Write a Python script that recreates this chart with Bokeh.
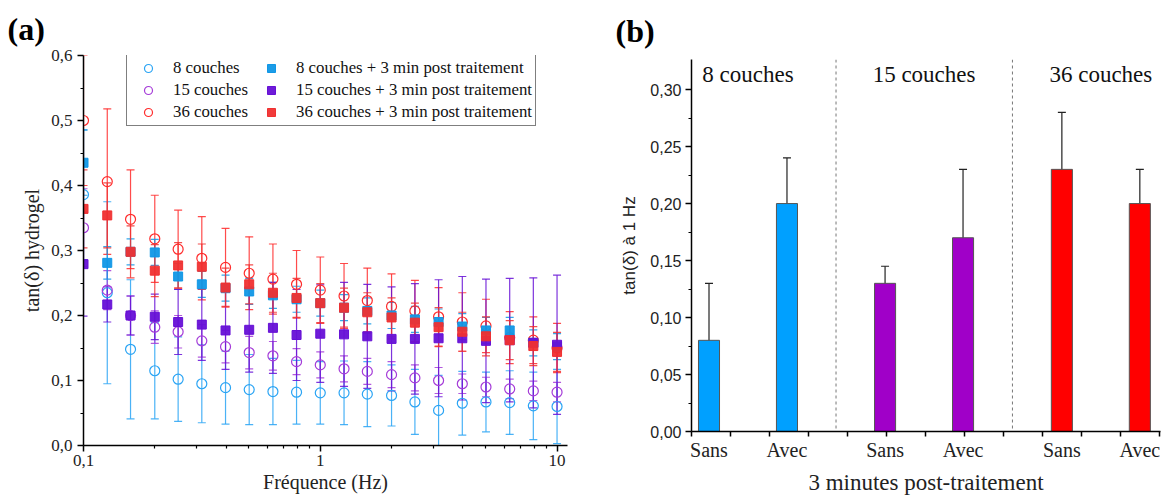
from bokeh.plotting import figure
from bokeh.models import (ColumnDataSource, Whisker, TeeHead, Legend, LegendItem, FixedTicker,
                          CustomJSTickFormatter, Span, Range1d)
from bokeh.layouts import row
from bokeh.embed import file_html
from bokeh.resources import INLINE
from bokeh.core.properties import value

# ---------------- data (a) ----------------
freq = [0.1, 0.126, 0.158, 0.2, 0.251, 0.316, 0.398, 0.501, 0.631, 0.794, 1.0,
        1.26, 1.58, 2.0, 2.51, 3.16, 3.98, 5.01, 6.31, 7.94, 10.0]

c8 = [0.386, 0.235, 0.148, 0.115, 0.102, 0.095, 0.089, 0.086, 0.083, 0.082, 0.081,
      0.081, 0.079, 0.077, 0.067, 0.054, 0.065, 0.067, 0.066, 0.061, 0.060]
c8_err = [0.10, 0.14, 0.107, 0.074, 0.065, 0.060, 0.056, 0.054, 0.051, 0.049, 0.048,
          0.049, 0.050, 0.047, 0.050, 0.054, 0.049, 0.046, 0.049, 0.052, 0.057]
c15 = [0.335, 0.239, 0.200, 0.182, 0.175, 0.161, 0.152, 0.143, 0.138, 0.129, 0.124,
       0.118, 0.114, 0.109, 0.104, 0.100, 0.095, 0.090, 0.087, 0.084, 0.082]
c15_err = [0.06, 0.030, 0.030, 0.025, 0.025, 0.025, 0.025, 0.025, 0.022, 0.020, 0.020,
           0.020, 0.020, 0.020, 0.020, 0.020, 0.015, 0.015, 0.015, 0.015, 0.015]
c36 = [0.500, 0.406, 0.348, 0.318, 0.302, 0.288, 0.274, 0.265, 0.256, 0.248, 0.239,
       0.230, 0.223, 0.214, 0.207, 0.198, 0.190, 0.184, 0.166, 0.162, 0.150]
c36_err = [0.10, 0.112, 0.076, 0.067, 0.060, 0.064, 0.060, 0.056, 0.054, 0.052, 0.051,
           0.050, 0.050, 0.050, 0.047, 0.045, 0.045, 0.041, 0.040, 0.036, 0.038]

s8 = [0.435, 0.281, 0.298, 0.297, 0.260, 0.248, 0.242, 0.237, 0.231, 0.225, 0.219,
      0.212, 0.207, 0.200, 0.194, 0.190, 0.183, 0.177, 0.177, 0.158, 0.152]
s8_err = [0.05, 0.025, 0.020, 0.020, 0.020, 0.020, 0.020, 0.020, 0.020, 0.020, 0.020,
          0.020, 0.020, 0.020, 0.020, 0.020, 0.020, 0.020, 0.020, 0.020, 0.020]
s15 = [0.279, 0.217, 0.200, 0.198, 0.190, 0.186, 0.177, 0.178, 0.181, 0.170, 0.172,
       0.171, 0.168, 0.164, 0.164, 0.165, 0.165, 0.161, 0.162, 0.158, 0.155]
s15_err = [0.08, 0.027, 0.030, 0.035, 0.050, 0.055, 0.060, 0.065, 0.070, 0.070, 0.075,
           0.080, 0.080, 0.080, 0.085, 0.090, 0.095, 0.095, 0.095, 0.100, 0.107]
s36 = [0.364, 0.354, 0.298, 0.269, 0.277, 0.275, 0.243, 0.248, 0.235, 0.227, 0.219,
       0.212, 0.205, 0.197, 0.189, 0.182, 0.175, 0.168, 0.162, 0.153, 0.144]
s36_err = [0.06, 0.050, 0.040, 0.040, 0.035, 0.035, 0.030, 0.030, 0.030, 0.030, 0.030,
           0.030, 0.030, 0.030, 0.030, 0.030, 0.030, 0.030, 0.030, 0.030, 0.030]

open_labels = ["8 couches", "15 couches", "36 couches"]
filled_labels = ["8 couches + 3 min post traitement", "15 couches + 3 min post traitement",
                 "36 couches + 3 min post traitement"]

y_ticks_a = [0.0, 0.1, 0.2, 0.3, 0.4, 0.5, 0.6]
x_ticks_a = [0.1, 1, 10]

# ---------------- data (b) ----------------
groups = ["8 couches", "15 couches", "36 couches"]
conditions = ["Sans", "Avec"]
bar_values = [0.08, 0.20, 0.13, 0.17, 0.23, 0.20]
bar_errors = [0.05, 0.04, 0.015, 0.06, 0.05, 0.03]
y_ticks_b = [0.0, 0.05, 0.10, 0.15, 0.20, 0.25, 0.30]

# ---------------- styles ----------------
SERIF = "Liberation Serif"
SANS = "Liberation Sans"
circle_colors = ["#2AA4F4", "#A53CD8", "#FF2B2B"]
square_colors = ["#1097E6", "#6610D6", "#F03030"]
bar_colors = ["#00A0FF", "#A000C8", "#FF0000"]


def style_axis(ax, font, tick_size, label_size):
    ax.axis_line_color = "black"
    ax.axis_line_width = 1.5
    ax.major_tick_line_color = "black"
    ax.major_tick_line_width = 1.5
    ax.major_tick_in = 0
    ax.major_tick_out = 6
    ax.minor_tick_line_color = "black"
    ax.minor_tick_line_width = 1.2
    ax.minor_tick_in = 0
    ax.minor_tick_out = 3
    ax.major_label_text_font = font
    ax.major_label_text_font_size = tick_size
    ax.major_label_text_color = "#222222"
    ax.axis_label_text_font_style = "normal"
    ax.axis_label_text_color = "#222222"
    ax.axis_label_text_font_size = label_size


def style_title(fig, text, offset, standoff):
    fig.title.text = text
    fig.title.text_font = SERIF
    fig.title.text_font_style = "bold"
    fig.title.text_font_size = "32px"
    fig.title.text_color = "black"
    fig.title.align = "left"
    fig.title.offset = offset
    fig.title.standoff = standoff


# ================= figure (a) =================
p1 = figure(width=612, height=497, x_axis_type="log",
            x_range=Range1d(0.1, 11.07), y_range=Range1d(0, 0.6),
            output_backend="svg", toolbar_location=None,
            min_border_left=83, min_border_right=45, min_border_top=53, min_border_bottom=52)
p1.frame_align = False
p1.outline_line_color = None
p1.grid.visible = False
style_title(p1, "(a)", -76, 17)

style_axis(p1.xaxis[0], SERIF, "17px", "20px")
style_axis(p1.yaxis[0], SERIF, "17px", "20px")
p1.axis.axis_label_text_font = SERIF
p1.xaxis.axis_label = "Fréquence (Hz)"
p1.yaxis.axis_label = "tan(δ) hydrogel"
p1.xaxis.ticker = FixedTicker(ticks=x_ticks_a,
                              minor_ticks=[0.2, 0.3, 0.4, 0.5, 0.6, 0.7, 0.8, 0.9,
                                           2, 3, 4, 5, 6, 7, 8, 9])
p1.xaxis.formatter = CustomJSTickFormatter(
    code="return (tick < 1 ? tick.toFixed(1) : tick.toFixed(0)).replace('.', ',');")
p1.yaxis.ticker = FixedTicker(ticks=y_ticks_a,
                              minor_ticks=[0.05, 0.15, 0.25, 0.35, 0.45, 0.55])
p1.yaxis.formatter = CustomJSTickFormatter(code="return tick.toFixed(1).replace('.', ',');")
p1.xaxis.major_label_standoff = 3
p1.xaxis.axis_label_standoff = 2
p1.yaxis.major_label_standoff = 5
p1.yaxis.axis_label_standoff = 5


def add_whisker(fig, xs, ys, errs, color, size=8, alpha=0.85):
    src = ColumnDataSource(dict(x=xs, lo=[y - e for y, e in zip(ys, errs)],
                                hi=[y + e for y, e in zip(ys, errs)]))
    w = Whisker(base="x", lower="lo", upper="hi", source=src,
                line_color=color, line_width=1.2, line_alpha=alpha,
                lower_head=TeeHead(size=size, line_color=color, line_width=1.2, line_alpha=alpha),
                upper_head=TeeHead(size=size, line_color=color, line_width=1.2, line_alpha=alpha))
    fig.add_layout(w)


open_series = [c8, c15, c36]
open_errs = [c8_err, c15_err, c36_err]
filled_series = [s8, s15, s36]
filled_errs = [s8_err, s15_err, s36_err]

open_renderers = []
filled_renderers = []
for ys, es, col in zip(open_series, open_errs, circle_colors):
    add_whisker(p1, freq, ys, es, col)
for ys, es, col in zip(filled_series, filled_errs, square_colors):
    add_whisker(p1, freq, ys, es, col)
for ys, col in zip(open_series, circle_colors):
    r = p1.scatter(freq, ys, marker="circle", size=10, fill_color=None,
                   line_color=col, line_width=1.2)
    open_renderers.append(r)
for ys, col in zip(filled_series, square_colors):
    r = p1.scatter(freq, ys, marker="square", size=9, fill_color=col,
                   line_color=col, line_width=1, fill_alpha=0.95)
    filled_renderers.append(r)

items = [LegendItem(label=l, renderers=[r]) for l, r in zip(open_labels, open_renderers)]
items += [LegendItem(label=l, renderers=[r]) for l, r in zip(filled_labels, filled_renderers)]
legend = Legend(items=items, location=(43, 319), orientation="vertical", ncols=2,
                label_text_font=SERIF, label_text_font_size="16.8px", label_text_color="#111111",
                border_line_color="black", border_line_width=1,
                padding=3, spacing=2, margin=0, glyph_width=36, glyph_height=20,
                label_height=14, label_width=78, label_standoff=7,
                background_fill_color="white", background_fill_alpha=1)
p1.add_layout(legend)

# ================= figure (b) =================
p2 = figure(width=550, height=497, x_range=Range1d(0, 12.03), y_range=Range1d(0, 0.3264),
            output_backend="svg", toolbar_location=None,
            min_border_left=79, min_border_right=2, min_border_top=57, min_border_bottom=62)
p2.frame_align = False
p2.outline_line_color = None
p2.grid.visible = False
style_title(p2, "(b)", -76, 21)

GROUP_CENTERS = [1.449, 5.965, 10.5]
OFFSETS = [-1.0, 1.0]
BAR_WIDTH = 0.54

bx, bcol, blab = [], [], []
for gi, gc in enumerate(GROUP_CENTERS):
    for ci, off in enumerate(OFFSETS):
        bx.append(gc + off)
        bcol.append(bar_colors[gi])
        blab.append(conditions[ci])

style_axis(p2.xaxis[0], SERIF, "20px", "23px")
style_axis(p2.yaxis[0], SANS, "16px", "17px")
p2.xaxis.axis_label_text_font = SERIF
p2.yaxis.axis_label_text_font = SANS
p2.xaxis.axis_label = "3 minutes post-traitement"
p2.yaxis.axis_label = "tan(δ) à 1 Hz"
# labels under the bars, tick marks at regular intervals
p2.xaxis.ticker = FixedTicker(ticks=bx, minor_ticks=list(range(0, 13)))
p2.xaxis.major_tick_out = 0
p2.xaxis.minor_tick_out = 5
p2.xaxis.minor_tick_line_width = 1.5
p2.xaxis.formatter = CustomJSTickFormatter(args=dict(labels=blab), code="return labels[index];")
p2.xaxis.major_label_standoff = 2
p2.xaxis.axis_label_standoff = 6
p2.yaxis.ticker = FixedTicker(ticks=y_ticks_b,
                              minor_ticks=[0.025, 0.075, 0.125, 0.175, 0.225, 0.275])
p2.yaxis.formatter = CustomJSTickFormatter(code="return tick.toFixed(2).replace('.', ',');")
p2.yaxis.major_label_standoff = 4
p2.yaxis.axis_label_standoff = 8

bsrc = ColumnDataSource(dict(x=bx, top=bar_values, color=bcol,
                             lo=[v - e for v, e in zip(bar_values, bar_errors)],
                             hi=[v + e for v, e in zip(bar_values, bar_errors)]))
p2.vbar(x="x", top="top", width=BAR_WIDTH, bottom=0, fill_color="color",
        line_color="#555555", line_width=1, source=bsrc)
p2.add_layout(Whisker(base="x", lower="lo", upper="hi", source=bsrc,
                      line_color="#222222", line_width=1.2,
                      lower_head=TeeHead(size=8, line_color="#222222", line_width=1.2),
                      upper_head=TeeHead(size=8, line_color="#222222", line_width=1.2)))

for a, b in zip(GROUP_CENTERS[:-1], GROUP_CENTERS[1:]):
    p2.add_layout(Span(location=(a + b) / 2, dimension="height", line_color="#777777",
                       line_dash="3 3", line_width=1))

gsrc = ColumnDataSource(dict(x=GROUP_CENTERS, y=[0.313] * 3, text=groups))
p2.text(x="x", y="y", text="text", source=gsrc, text_font=value(SERIF),
        text_font_size="23px", text_align="center", text_baseline="middle",
        text_color="#111111")

layout = row(p1, p2)
open("out.html", "w").write(file_html(layout, INLINE))
